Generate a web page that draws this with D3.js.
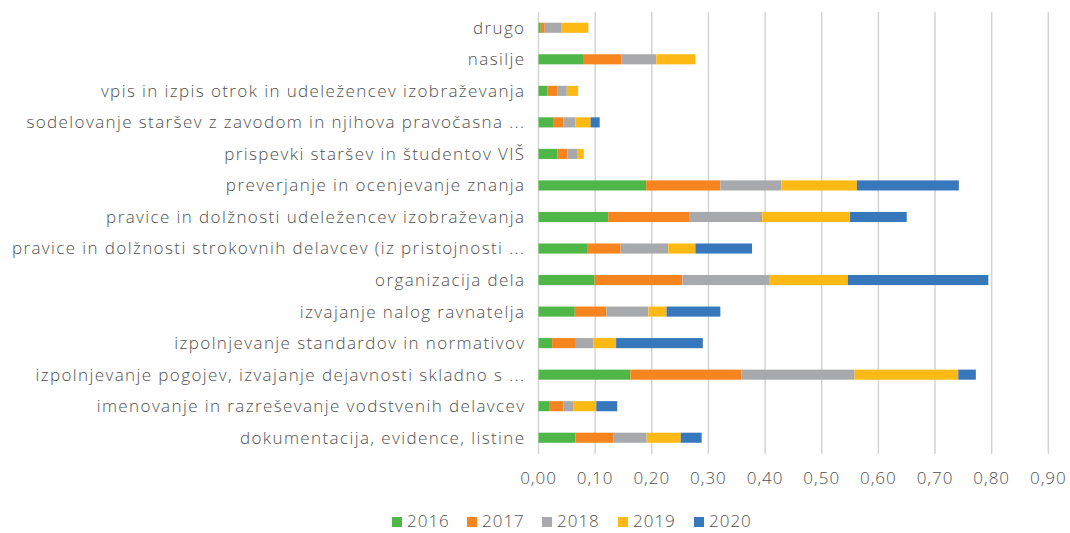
<!DOCTYPE html>
<html>
<head>
<meta charset="utf-8">
<script src="https://cdn.jsdelivr.net/npm/d3@7"></script>
<style>
  body { margin: 0; background: #fff; }
  svg { font-family: "Open Sans", sans-serif; font-weight: 300; }
</style>
</head>
<body>
<svg id="chart"></svg>
<script>
// Categories, top to bottom
const categories = [
    "drugo",
    "nasilje",
    "vpis in izpis otrok in udeležencev izobraževanja",
    "sodelovanje staršev z zavodom in njihova pravočasna ...",
    "prispevki staršev in študentov VIŠ",
    "preverjanje in ocenjevanje znanja",
    "pravice in dolžnosti udeležencev izobraževanja",
    "pravice in dolžnosti strokovnih delavcev (iz pristojnosti ...",
    "organizacija dela",
    "izvajanje nalog ravnatelja",
    "izpolnjevanje standardov in normativov",
    "izpolnjevanje pogojev, izvajanje dejavnosti skladno s ...",
    "imenovanje in razreševanje vodstvenih delavcev",
    "dokumentacija, evidence, listine"
];

const years = ["2016", "2017", "2018", "2019", "2020"];

// Values per year, same order as categories
const v2016 = [0.004, 0.080, 0.016, 0.027, 0.033, 0.190, 0.123, 0.087, 0.099, 0.064, 0.024, 0.162, 0.020, 0.065];
const v2017 = [0.007, 0.066, 0.017, 0.017, 0.018, 0.131, 0.144, 0.058, 0.155, 0.056, 0.042, 0.196, 0.024, 0.067];
const v2018 = [0.030, 0.062, 0.017, 0.021, 0.017, 0.108, 0.128, 0.084, 0.153, 0.074, 0.031, 0.200, 0.018, 0.059];
const v2019 = [0.047, 0.069, 0.020, 0.027, 0.012, 0.133, 0.155, 0.048, 0.139, 0.032, 0.040, 0.183, 0.040, 0.060];
const v2020 = [0.000, 0.000, 0.000, 0.016, 0.000, 0.180, 0.100, 0.100, 0.248, 0.095, 0.153, 0.031, 0.037, 0.037];

const tickValues = [0, 0.1, 0.2, 0.3, 0.4, 0.5, 0.6, 0.7, 0.8, 0.9];

const colors = ["#4EB748", "#F68520", "#A8A9AD", "#FFB915", "#3777BC"];

const W = 1070, H = 533;
const margin = { top: 12, right: 22, bottom: 80, left: 538.5 };
const width = W - margin.left - margin.right;
const height = H - margin.top - margin.bottom;

const svg = d3.select("#chart").attr("width", W).attr("height", H);
const g = svg.append("g").attr("transform", `translate(${margin.left},${margin.top})`);

const table = categories.map((c, i) => ({
    cat: c, "2016": v2016[i], "2017": v2017[i], "2018": v2018[i], "2019": v2019[i], "2020": v2020[i]
}));
const stacked = d3.stack().keys(years)(table);

const x = d3.scaleLinear().domain([0, 0.9]).range([0, 0.9 * 566.5]);
const y = d3.scaleBand().domain(categories).range([0, height + 0.5]).paddingInner(0.68).paddingOuter(0.34);

// Gridlines (extend a bit below plot as ticks)
g.selectAll(".grid")
    .data(tickValues)
    .enter()
    .append("line")
    .attr("x1", d => x(d)).attr("x2", d => x(d))
    .attr("y1", 0).attr("y2", height + 1)
    .attr("stroke", "#d4d4d4")
    .attr("stroke-width", 1.5);

// Bars
g.selectAll(".series")
    .data(stacked)
    .enter()
    .append("g")
    .attr("fill", (d, i) => colors[i])
    .selectAll("rect")
    .data(d => d)
    .enter()
    .append("rect")
    .attr("x", d => x(d[0]))
    .attr("y", d => y(d.data.cat))
    .attr("width", d => Math.max(0, x(d[1]) - x(d[0])))
    .attr("height", y.bandwidth());

// Category labels
g.selectAll(".cat")
    .data(categories)
    .enter()
    .append("text")
    .attr("x", -13)
    .attr("y", d => y(d) + y.bandwidth() / 2)
    .attr("dy", "0.35em")
    .attr("text-anchor", "end")
    .style("font-size", "17px")
    .style("letter-spacing", "1.4px")
    .attr("fill", "#505050")
    .text(d => d);

// X axis labels
const fmt = d => d3.format(".2f")(d).replace(".", ",");
g.selectAll(".tick-label")
    .data(tickValues)
    .enter()
    .append("text")
    .attr("x", d => x(d))
    .attr("y", height + 31)
    .attr("text-anchor", "middle")
    .style("font-size", "17px")
    .style("letter-spacing", "1px")
    .attr("fill", "#505050")
    .text(fmt);

// Legend
const legendX = [392, 467, 542, 618, 694];
const legend = svg.append("g");
years.forEach((yr, i) => {
    legend.append("rect")
        .attr("x", legendX[i]).attr("y", 517)
        .attr("width", 10).attr("height", 10)
        .attr("fill", colors[i]);
    legend.append("text")
        .attr("x", legendX[i] + 15).attr("y", 521)
        .attr("dy", "0.35em")
        .style("font-size", "17px")
        .style("letter-spacing", "1px")
        .attr("fill", "#505050")
        .text(yr);
});
</script>
</body>
</html>
